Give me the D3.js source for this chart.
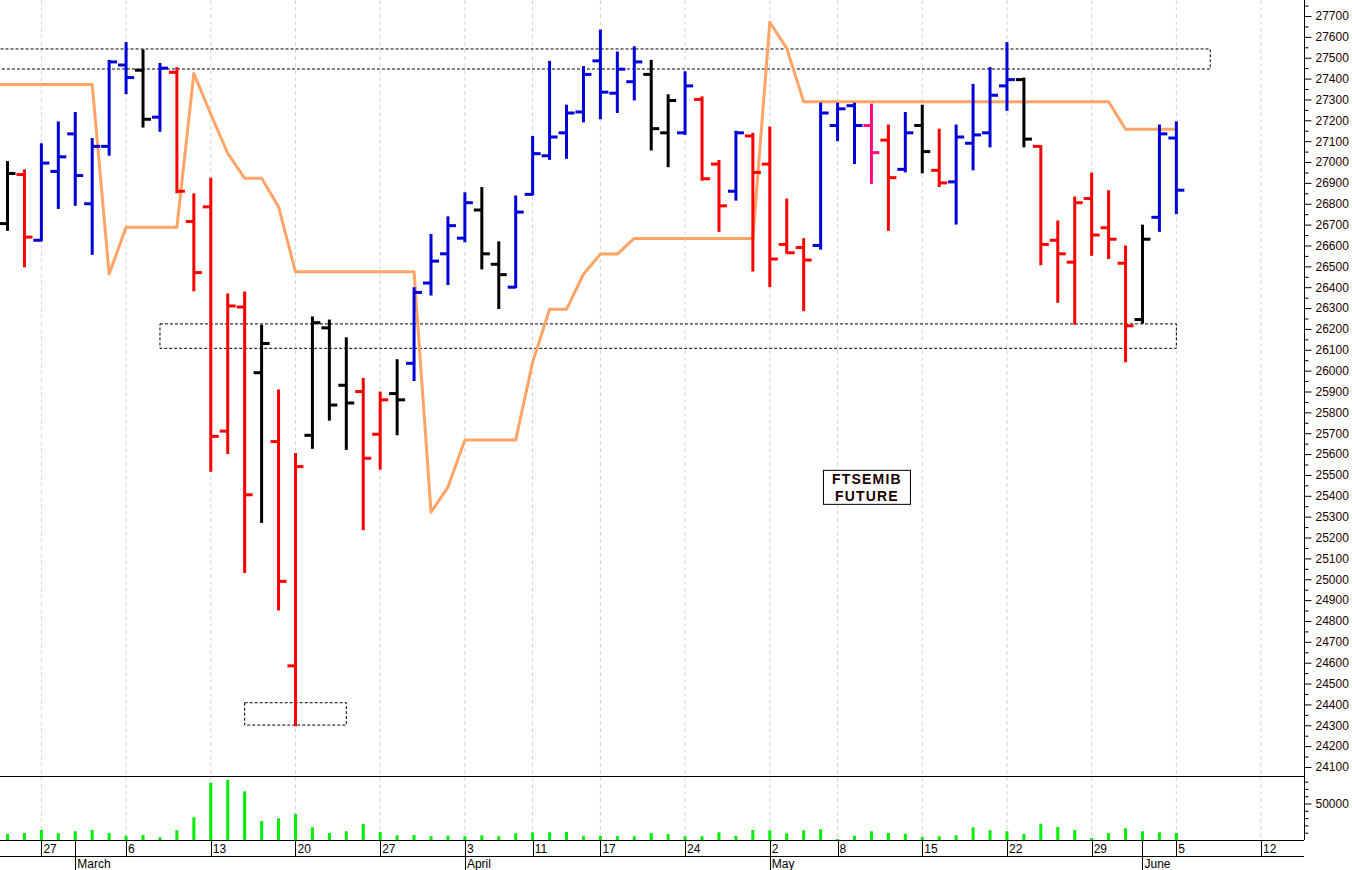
<!DOCTYPE html>
<html>
<head>
<meta charset="utf-8">
<script src="https://cdn.jsdelivr.net/npm/d3@7"></script>
<style>
  html, body { margin: 0; padding: 0; background: #fff; }
  svg { display: block; }
  text { font-family: Arial, "Liberation Sans", sans-serif; }
</style>
</head>
<body>
<svg id="chart" width="1352" height="870"></svg>
<script>
// ---------------- DATA ----------------
const dates = [
  "2023-02-22","2023-02-23","2023-02-24","2023-02-27","2023-02-28",
  "2023-03-01","2023-03-02","2023-03-03",
  "2023-03-06","2023-03-07","2023-03-08","2023-03-09","2023-03-10",
  "2023-03-13","2023-03-14","2023-03-15","2023-03-16","2023-03-17",
  "2023-03-20","2023-03-21","2023-03-22","2023-03-23","2023-03-24",
  "2023-03-27","2023-03-28","2023-03-29","2023-03-30","2023-03-31",
  "2023-04-03","2023-04-04","2023-04-05","2023-04-06",
  "2023-04-11","2023-04-12","2023-04-13","2023-04-14",
  "2023-04-17","2023-04-18","2023-04-19","2023-04-20","2023-04-21",
  "2023-04-24","2023-04-25","2023-04-26","2023-04-27","2023-04-28",
  "2023-05-02","2023-05-03","2023-05-04","2023-05-05",
  "2023-05-08","2023-05-09","2023-05-10","2023-05-11","2023-05-12",
  "2023-05-15","2023-05-16","2023-05-17","2023-05-18","2023-05-19",
  "2023-05-22","2023-05-23","2023-05-24","2023-05-25","2023-05-26",
  "2023-05-29","2023-05-30","2023-05-31","2023-06-01","2023-06-02",
  "2023-06-05","2023-06-06","2023-06-07","2023-06-08","2023-06-09",
  "2023-06-12","2023-06-13","2023-06-14"
];

// OHLC from 2023-02-22 (no bar drawn for the first day) to 2023-06-05
const open  = [null,
  26705,26940,26625,26955,27135,26800,27075,27465,27440,27215,
  27430,26715,26785,25710,26305,25990,25660,24585,25690,26205,
  25930,25900,25695,25890,26035,26420,26560,26635,26770,26510,
  26400,26845,27030,27140,27240,27485,27330,27385,27420,27140,
  27140,27300,26990,26860,27125,26990,26605,26590,26600,27175,
  27270,27175,27105,26965,27175,26960,26905,27090,27140,27365,
  27395,27075,26625,26520,26825,26685,26515,26245,26735,27115];
const high  = [null,
  27000,26960,27085,27190,27235,27110,27485,27570,27535,27470,
  27450,26845,26920,26365,26375,26215,25905,25600,26255,26240,
  26155,25960,25895,26050,26395,26650,26735,26850,26875,26615,
  26835,27120,27480,27270,27455,27630,27525,27550,27485,27320,
  27430,27310,27005,27145,27135,27165,26820,26630,27280,27280,
  27280,27275,27175,27235,27270,27155,27175,27370,27450,27570,
  27400,27075,26715,26830,26945,26860,26595,26695,27175,27190];
const low   = [null,
  26675,26500,26625,26780,26795,26560,27035,27330,27170,27150,
  26855,26385,25520,25605,25035,25275,24855,24300,25630,25765,
  25625,25240,25530,25695,25955,26365,26415,26620,26490,26300,
  26400,26845,27015,27020,27195,27210,27240,27300,27060,26980,
  27135,26915,26670,26820,26480,26405,26565,26290,26585,27105,
  26995,26900,26675,26955,26950,26885,26705,26965,27075,27250,
  27075,26510,26330,26225,26555,26540,26045,26230,26670,26755];
const close = [null,
  26945,26640,26995,27025,26935,27075,27480,27405,27205,27450,
  26860,26470,25685,26310,25405,26130,24990,25540,26230,25835,
  25845,25580,25860,25860,26375,26525,26695,26805,26560,26460,
  26760,27040,27120,27235,27420,27335,27445,27480,27160,27295,
  27365,26920,26790,27140,26950,26535,26565,26530,27235,27255,
  27175,27045,26925,27140,27050,26900,27120,27130,27320,27395,
  27110,26605,26560,26805,26650,26630,26215,26630,27135,26865];
// bar colour class: B = blue, R = red, K = black, P = pink
const signal = [null,
  "K","R","B","B","B","B","B","B","K","B",
  "R","R","R","R","R","K","R","R","K","K",
  "K","R","R","K","B","B","B","B","K","K",
  "B","B","B","B","B","B","B","B","K","K",
  "B","R","R","B","R","R","R","R","B","B",
  "B","P","R","B","K","R","B","B","B","B",
  "K","R","R","R","R","R","R","K","B","B"];
// trailing-stop line (orange)
const trail = [27372,
  27372,27372,27372,27372,27372,27372,26463,26687,26687,26687,
  26687,27425,27229,27042,26922,26922,26786,26474,26474,26474,
  26474,26474,26474,26474,26474,25321,25442,25667,25667,25667,
  25667,26041,26294,26294,26462,26559,26559,26634,26634,26634,
  26634,26634,26634,26634,26634,27670,27545,27289,27289,27289,
  27289,27289,27289,27289,27289,27289,27289,27289,27289,27289,
  27289,27289,27289,27289,27289,27289,27157,27157,27157,27157];
// volume (contracts)
const volume = [null,
  8200,9600,13700,9200,11900,13700,9600,5900,6900,3700,
  13300,31100,78500,82200,66700,26000,29700,35600,17400,9600,
  11900,21900,11000,6400,6900,5100,5900,5100,6400,5100,
  9200,10500,10500,11000,5100,5500,5500,5100,9600,8200,
  5100,5100,10500,5500,13700,13300,9200,13300,14700,1400,
  5900,11900,9600,8600,4100,5100,6400,17400,13300,11900,
  8200,22300,17800,13700,2700,9600,16000,11900,10500,9600];
// support / resistance zones
const zones = [
  { from: "2023-02-22", to: "2023-06-07", low: 27446, high: 27542 },
  { from: "2023-03-08", to: "2023-06-05", low: 26107, high: 26224 },
  { from: "2023-03-15", to: "2023-03-23", low: 24301, high: 24408 }
];
const weekLabels = ["2023-02-27","2023-03-06","2023-03-13","2023-03-20","2023-03-27",
  "2023-04-03","2023-04-11","2023-04-17","2023-04-24","2023-05-02","2023-05-08",
  "2023-05-15","2023-05-22","2023-05-29","2023-06-05","2023-06-12"];
const monthLabels = [
  { date: "2023-03-01", label: "March" },
  { date: "2023-04-03", label: "April" },
  { date: "2023-05-02", label: "May" },
  { date: "2023-06-01", label: "June" }
];
const priceTicks = d3.range(24100, 27701, 100);
const priceMinorTicks = d3.range(24150, 27751, 100);
const volumeTicks = [50000];
const volumeMinorTicks = [10000,20000,30000,40000,60000,70000,80000];
const title = ["FTSEMIB", "FUTURE"];
const titleAnchor = { date: "2023-05-10", price: 25522 };

// ---------------- LAYOUT ----------------
const W = 1352, H = 870;
const axisX = 1304;
const priceTop = 0, priceBottom = 776;
const volBottom = 840, dateRowBottom = 856;

const svg = d3.select("#chart");
svg.append("rect").attr("width", W).attr("height", H).attr("fill", "#fff");

const x = d3.scalePoint().domain(dates).range([-9.44, 1294.94]);
const y = d3.scaleLinear().domain([24100, 27700]).range([767, 16]);
const yv = d3.scaleLinear().domain([0, 87700]).range([volBottom, priceBottom]);

const defs = svg.append("defs");
defs.append("clipPath").attr("id", "clipP").append("rect")
  .attr("x", 0).attr("y", priceTop).attr("width", axisX).attr("height", priceBottom - priceTop);
defs.append("clipPath").attr("id", "clipV").append("rect")
  .attr("x", 0).attr("y", priceBottom).attr("width", axisX).attr("height", volBottom - priceBottom);

// grid
svg.append("g").selectAll("line").data(weekLabels).join("line")
  .attr("x1", d => x(d)).attr("x2", d => x(d))
  .attr("y1", 0).attr("y2", volBottom)
  .attr("stroke", "#d4d4dc").attr("stroke-width", 1).attr("stroke-dasharray", "4,3");

const pg = svg.append("g").attr("clip-path", "url(#clipP)");

// zones
pg.append("g").selectAll("rect").data(zones).join("rect")
  .attr("x", d => x(d.from)).attr("y", d => y(d.high))
  .attr("width", d => x(d.to) - x(d.from))
  .attr("height", d => y(d.low) - y(d.high))
  .attr("fill", "none").attr("stroke", "#000").attr("stroke-width", 1)
  .attr("stroke-dasharray", "3,2");

// trailing line
const trailPts = trail.map((v, i) => [dates[i], v]);
pg.append("path").datum(trailPts)
  .attr("fill", "none").attr("stroke", "#ffa466").attr("stroke-width", 3)
  .attr("stroke-linejoin", "round")
  .attr("d", d3.line().x(d => x(d[0])).y(d => y(d[1])));

// OHLC bars
const colorOf = { B: "#0000d8", R: "#ff0000", K: "#000000", P: "#ff0a7e" };
const bars = open.map((o, i) => ({ date: dates[i], o, h: high[i], l: low[i], c: close[i], s: signal[i] }))
  .filter(d => d.o != null);
const bg = pg.append("g").attr("stroke-width", 3).attr("stroke-linecap", "butt");
const bar = bg.selectAll("g").data(bars).join("g").attr("stroke", d => colorOf[d.s]);
bar.append("line").attr("x1", d => x(d.date)).attr("x2", d => x(d.date))
  .attr("y1", d => y(d.h) - 1).attr("y2", d => y(d.l) + 1);
bar.append("line").attr("x1", d => x(d.date) - 8).attr("x2", d => x(d.date))
  .attr("y1", d => y(d.o)).attr("y2", d => y(d.o));
bar.append("line").attr("x1", d => x(d.date)).attr("x2", d => x(d.date) + 8)
  .attr("y1", d => y(d.c)).attr("y2", d => y(d.c));

// title box
const tx = x(titleAnchor.date) - 4.5, ty = y(titleAnchor.price);
const tb = svg.append("g");
tb.append("rect").attr("x", tx - 43.5).attr("y", ty).attr("width", 87).attr("height", 34)
  .attr("fill", "#fff").attr("stroke", "#000").attr("stroke-width", 1);
tb.selectAll("text").data(title).join("text")
  .attr("x", tx).attr("y", (d, i) => ty + 14 + i * 17)
  .attr("text-anchor", "middle").attr("font-weight", "bold").attr("font-size", 14)
  .attr("letter-spacing", "1.2px").attr("fill", "#1a0000").text(d => d);

// volume
const vols = volume.map((v, i) => ({ date: dates[i], v })).filter(d => d.v != null);
svg.append("g").attr("clip-path", "url(#clipV)").selectAll("line").data(vols).join("line")
  .attr("x1", d => x(d.date)).attr("x2", d => x(d.date))
  .attr("y1", yv(0)).attr("y2", d => yv(d.v))
  .attr("stroke", "#00ee00").attr("stroke-width", 3);

// panel frame lines
const frame = svg.append("g").attr("stroke", "#000").attr("stroke-width", 1);
frame.append("line").attr("x1", 0).attr("x2", axisX).attr("y1", priceBottom + 0.5).attr("y2", priceBottom + 0.5);
frame.append("line").attr("x1", 0).attr("x2", axisX).attr("y1", volBottom + 0.5).attr("y2", volBottom + 0.5);
frame.append("line").attr("x1", 0).attr("x2", axisX).attr("y1", dateRowBottom + 0.5).attr("y2", dateRowBottom + 0.5);
frame.append("line").attr("x1", axisX + 0.5).attr("x2", axisX + 0.5).attr("y1", 0).attr("y2", volBottom);

// price axis
const pa = svg.append("g").attr("transform", `translate(${axisX + 0.5},0)`)
  .call(d3.axisRight(y).tickValues(priceTicks).tickSize(7).tickPadding(4).tickFormat(d3.format("d")));
pa.select(".domain").remove();
pa.selectAll("text").attr("font-size", 12).attr("fill", "#1a0000")
  .attr("font-family", "Arial, 'Liberation Sans', sans-serif");
svg.append("g").attr("transform", `translate(${axisX + 0.5},0)`)
  .call(d3.axisRight(y).tickValues(priceMinorTicks).tickSize(4).tickFormat(""))
  .select(".domain").remove();

// volume axis
const va = svg.append("g").attr("transform", `translate(${axisX + 0.5},0)`)
  .call(d3.axisRight(yv).tickValues(volumeTicks).tickSize(7).tickPadding(4).tickFormat(d3.format("d")));
va.select(".domain").remove();
va.selectAll("text").attr("font-size", 12).attr("fill", "#1a0000")
  .attr("font-family", "Arial, 'Liberation Sans', sans-serif");
svg.append("g").attr("transform", `translate(${axisX + 0.5},0)`)
  .call(d3.axisRight(yv).tickValues(volumeMinorTicks).tickSize(4).tickFormat(""))
  .select(".domain").remove();

// date axis
const da = svg.append("g");
da.selectAll("line.wk").data(weekLabels).join("line").attr("class", "wk")
  .attr("x1", d => Math.round(x(d)) + 0.5).attr("x2", d => Math.round(x(d)) + 0.5)
  .attr("y1", volBottom).attr("y2", dateRowBottom).attr("stroke", "#000");
da.selectAll("text.wk").data(weekLabels).join("text").attr("class", "wk")
  .attr("x", d => x(d) + 2).attr("y", volBottom + 13)
  .attr("font-size", 12).attr("fill", "#000")
  .text(d => +d.slice(8));
da.selectAll("line.mo").data(monthLabels).join("line").attr("class", "mo")
  .attr("x1", d => Math.round(x(d.date)) + 0.5).attr("x2", d => Math.round(x(d.date)) + 0.5)
  .attr("y1", volBottom).attr("y2", H).attr("stroke", "#000");
da.selectAll("text.mo").data(monthLabels).join("text").attr("class", "mo")
  .attr("x", d => x(d.date) + 2).attr("y", dateRowBottom + 12)
  .attr("font-size", 12).attr("fill", "#000")
  .text(d => d.label);
</script>
</body>
</html>
